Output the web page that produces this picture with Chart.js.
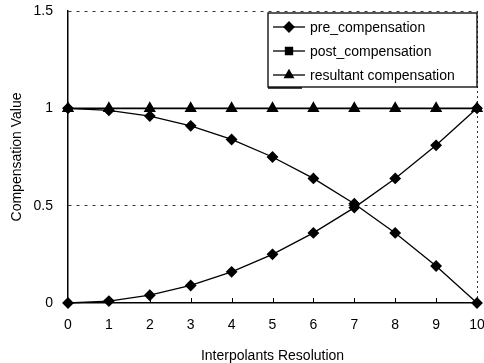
<!DOCTYPE html>
<html>
<head>
<meta charset="utf-8">
<script src="https://cdn.jsdelivr.net/npm/chart.js@4/dist/chart.umd.min.js"></script>
<style>
  html, body { margin: 0; padding: 0; background: #fff; }
  #wrap { width: 484px; height: 363px; }
</style>
</head>
<body>
<div id="wrap"><canvas id="myChart"></canvas></div>
<script>
var steps = [0, 1, 2, 3, 4, 5, 6, 7, 8, 9, 10];
var preComp = [1, 0.99, 0.96, 0.91, 0.84, 0.75, 0.64, 0.51, 0.36, 0.19, 0];
var postComp = [0, 0.01, 0.04, 0.09, 0.16, 0.25, 0.36, 0.49, 0.64, 0.81, 1];
var resultComp = [1, 1, 1, 1, 1, 1, 1, 1, 1, 1, 1];
var seriesNames = ["pre_compensation", "post_compensation", "resultant compensation"];
var legendStyles = ["rectRot", "rect", "triangle"];

var FONT = "'Liberation Sans', Arial, sans-serif";

function pts(arr) {
  return steps.map(function (x, i) { return { x: x, y: arr[i] }; });
}

// legend drawn inside the plot, top right, like the original
var boxLegend = {
  id: "boxLegend",
  afterDraw: function (chart) {
    var c = chart.ctx;
    var area = chart.chartArea;
    var x0 = 268, y0 = area.top + 2, w = area.right - 268, h = 74;
    c.save();
    c.fillStyle = "#444";
    c.fillRect(x0, y0 + h, 34, 2);
    c.fillStyle = "#fff";
    c.fillRect(x0, y0, w, h);
    c.strokeStyle = "#000";
    c.lineWidth = 1.3;
    c.strokeRect(x0, y0, w, h);
    c.font = "14px " + FONT;
    c.textBaseline = "middle";
    chart.data.datasets.forEach(function (ds, i) {
      var cy = y0 + 14 + i * 24;
      c.beginPath();
      c.moveTo(273, cy);
      c.lineTo(305, cy);
      c.strokeStyle = "#000";
      c.lineWidth = 1.3;
      c.stroke();
      c.fillStyle = "#000";
      Chart.helpers.drawPoint(c, {
        pointStyle: legendStyles[i],
        radius: 5,
        rotation: 0,
        borderWidth: 1
      }, 289, cy);
      c.fillStyle = "#000";
      c.fillText(seriesNames[i], 310, cy + 1);
    });
    c.restore();
  }
};

// small tick marks pointing into the plot on the x axis
var innerTicks = {
  id: "innerTicks",
  afterDatasetsDraw: function (chart) {
    var c = chart.ctx;
    var xs = chart.scales.x;
    var bottom = chart.chartArea.bottom;
    c.save();
    c.strokeStyle = "#000";
    c.lineWidth = 1;
    steps.forEach(function (v) {
      var px = Math.round(xs.getPixelForValue(v)) + 0.5;
      c.beginPath();
      c.moveTo(px, bottom);
      c.lineTo(px, bottom - 5);
      c.stroke();
    });
    c.restore();
  }
};

var ctx = document.getElementById("myChart").getContext("2d");
var myChart = new Chart(ctx, {
  type: "line",
  data: {
    datasets: [
      {
        label: seriesNames[0],
        data: pts(preComp),
        borderColor: "#000",
        backgroundColor: "#000",
        borderWidth: 1.3,
        pointStyle: "rectRot",
        pointRadius: 5,
        fill: false,
        clip: false
      },
      {
        label: seriesNames[1],
        data: pts(postComp),
        borderColor: "#000",
        backgroundColor: "#000",
        borderWidth: 1.3,
        pointStyle: "rectRot",
        pointRadius: 5,
        fill: false,
        clip: false
      },
      {
        label: seriesNames[2],
        data: pts(resultComp),
        borderColor: "#000",
        backgroundColor: "#000",
        borderWidth: 1.6,
        pointStyle: "triangle",
        pointRadius: 5.5,
        fill: false,
        clip: false
      }
    ]
  },
  options: {
    responsive: true,
    maintainAspectRatio: false,
    animation: false,
    layout: { autoPadding: false, padding: { top: 11, right: 7, left: 0, bottom: 0 } },
    plugins: {
      legend: { display: false },
      tooltip: { enabled: false }
    },
    scales: {
      x: {
        type: "linear",
        min: 0,
        max: 10,
        afterFit: function (s) {
          s.height = 60;
          s.paddingLeft = 0; s.paddingRight = 0;
          s.paddingTop = 0; s.paddingBottom = 0;
        },
        ticks: {
          stepSize: 1,
          padding: 14,
          color: "#000",
          font: { family: FONT, size: 14 }
        },
        grid: {
          drawTicks: false,
          color: function (c) { return c.tick && c.tick.value === 10 ? "#333" : "rgba(0,0,0,0)"; },
          lineWidth: 1
        },
        border: { display: true, color: "#000", width: 1.5, dash: [2, 3] },
        title: {
          display: true,
          text: "Interpolants Resolution",
          color: "#000",
          font: { family: FONT, size: 14, lineHeight: 1 },
          padding: { top: 0, bottom: 0 }
        }
      },
      y: {
        min: 0,
        max: 1.5,
        afterFit: function (s) {
          s.width = 68;
          s.paddingLeft = 0; s.paddingRight = 0;
          s.paddingTop = 0; s.paddingBottom = 0;
        },
        ticks: {
          stepSize: 0.5,
          padding: 15,
          color: "#000",
          font: { family: FONT, size: 14 },
          callback: function (v) { return String(v); }
        },
        grid: {
          drawTicks: false,
          color: function (c) { return c.tick && c.tick.value === 0 ? "rgba(0,0,0,0)" : "#333"; },
          lineWidth: 1
        },
        border: { display: true, color: "#000", width: 1.5, dash: [3, 5] },
        title: {
          display: true,
          text: "Compensation Value",
          color: "#000",
          font: { family: FONT, size: 14, lineHeight: 1 },
          padding: { top: 10, bottom: 0 }
        }
      }
    }
  },
  plugins: [innerTicks, boxLegend]
});
</script>
</body>
</html>
